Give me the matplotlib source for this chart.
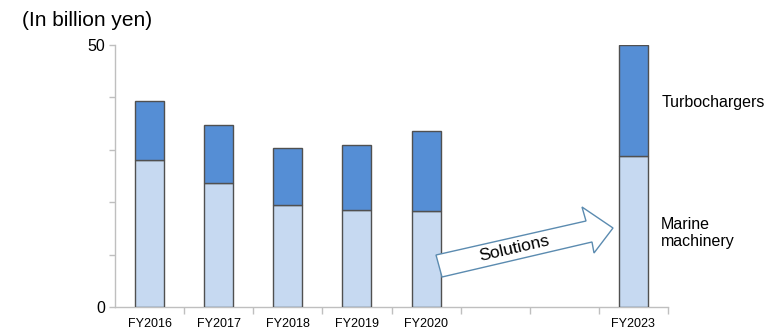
import matplotlib
matplotlib.use("Agg")
import matplotlib.pyplot as plt
from matplotlib.patches import Polygon
from matplotlib.transforms import Affine2D
import numpy as np

plt.rcParams['font.family'] = ['Liberation Sans', 'DejaVu Sans']

# Sales by fiscal year (billion yen); two empty slots before the FY2023 target
categories = ["FY2016", "FY2017", "FY2018", "FY2019", "FY2020", "", "", "FY2023"]
marine = [28.0, 23.7, 19.4, 18.5, 18.4, None, None, 28.8]
turbo = [11.3, 11.0, 10.9, 12.4, 15.2, None, None, 21.2]

LIGHT = "#C6D9F1"
DARK = "#558ED5"
EDGE = "#505050"
AXIS = "#BFBFBF"

W, H = 766, 331
fig = plt.figure(figsize=(W / 100, H / 100), dpi=100)
ax = fig.add_axes([115 / W, 1 - 307 / H, (668 - 115) / W, (307 - 45) / H])

x = np.arange(len(categories))
idx = [i for i, v in enumerate(marine) if v is not None]
m = np.array([marine[i] for i in idx])
t = np.array([turbo[i] for i in idx])
ax.bar(idx, m, width=0.42, color=LIGHT, edgecolor=EDGE, linewidth=1.0, zorder=3)
ax.bar(idx, t, bottom=m, width=0.42, color=DARK, edgecolor=EDGE, linewidth=1.0, zorder=3)

ax.set_xlim(-0.5, len(categories) - 0.5)
ax.set_ylim(0, 50)

for s in ("top", "right"):
    ax.spines[s].set_visible(False)
for s in ("left", "bottom"):
    ax.spines[s].set_color(AXIS)
    ax.spines[s].set_linewidth(1.0)

ax.set_yticks(np.arange(0, 51, 10))
ax.set_yticklabels(["0", "", "", "", "", "50"], fontsize=11.5)
ax.tick_params(axis="y", length=4, color=AXIS, width=1, pad=3)

ax.set_xticks(x)
ax.set_xticklabels(categories, fontsize=9)
ax.tick_params(axis="x", which="major", length=0, pad=8)
ax.set_xticks(np.arange(0.5, len(categories), 1.0), minor=True)
ax.tick_params(axis="x", which="minor", length=5, color=AXIS, width=1)

# pixel -> figure-fraction transform (origin top-left)
px = Affine2D().scale(1 / W, -1 / H).translate(0, 1) + fig.transFigure

fig.text(22 / W, 1 - 21 / H, "(In billion yen)", fontsize=15, va="center", ha="left")
fig.text(662 / W, 1 - 103 / H, "Turbochargers", fontsize=11.5, va="center", ha="left")
fig.text(661 / W, 1 - 233 / H, "Marine\nmachinery", fontsize=11.5, va="center", ha="left",
         linespacing=1.2)

arrow_pts = [(436, 255), (586, 221), (582, 207), (613, 228), (594, 253), (592, 242), (442, 277)]
arrow = Polygon(arrow_pts, closed=True, facecolor="white", edgecolor="#5B8BB0",
                linewidth=1.0, transform=px, zorder=5)
fig.add_artist(arrow)
fig.text(514 / W, 1 - 249 / H, "Solutions", fontsize=12.5, rotation=13,
         va="center", ha="center", zorder=6)

fig.savefig("out.png", dpi=100)
